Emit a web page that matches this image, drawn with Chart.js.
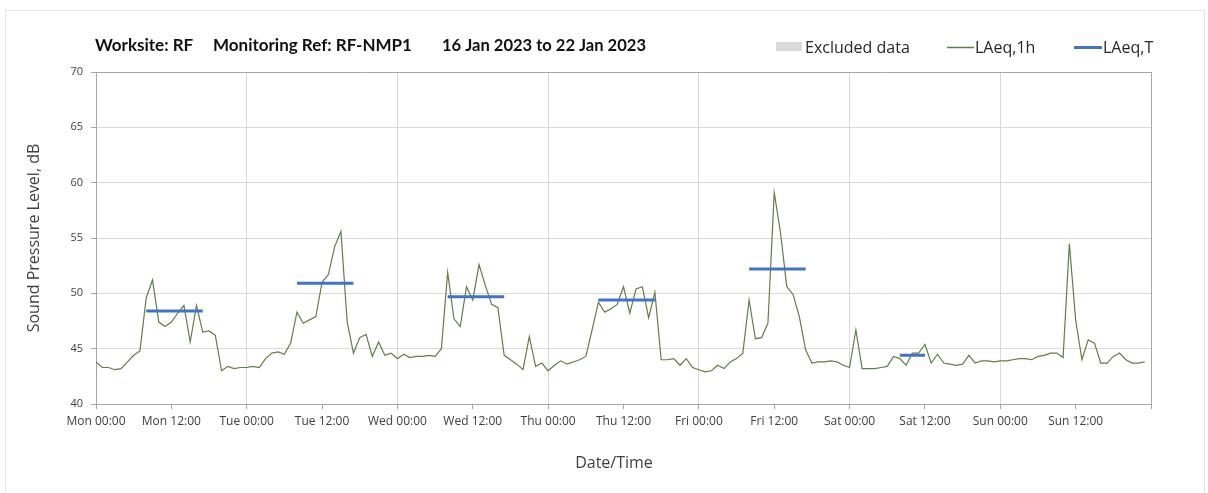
<!DOCTYPE html>
<html>
<head>
<meta charset="utf-8">
<script src="https://cdn.jsdelivr.net/npm/chart.js@4.4.1/dist/chart.umd.min.js"></script>
<style>
    html, body { margin:0; padding:0; background:#ffffff; }
    #wrap { width:1208px; height:493px; }
</style>
</head>
<body>
<div id="wrap"><canvas id="noiseChart" width="1208" height="493"></canvas></div>
<script>

// hourly LAeq,1h values, Mon 00:00 onwards (dB)
const hourlyLAeq = [
    43.8, 43.3, 43.3, 43.1, 43.2, 43.8, 44.4, 44.8, 49.6, 51.2, 47.4, 47.0,
    47.4, 48.2, 48.9, 45.6, 48.9, 46.5, 46.6, 46.2, 43.0, 43.4, 43.2, 43.3,
    43.3, 43.4, 43.3, 44.1, 44.6, 44.7, 44.5, 45.5, 48.3, 47.3, 47.6, 47.9,
    51.0, 51.7, 54.2, 55.6, 47.4, 44.6, 46.0, 46.3, 44.3, 45.6, 44.4, 44.6,
    44.1, 44.5, 44.2, 44.3, 44.3, 44.4, 44.3, 45.0, 51.9, 47.7, 47.0, 50.6,
    49.4, 52.6, 50.7, 49.0, 48.7, 44.4, 44.0, 43.6, 43.1, 46.1, 43.4, 43.7,
    43.0, 43.5, 43.9, 43.6, 43.8, 44.0, 44.3, 46.7, 49.2, 48.3, 48.6, 49.0,
    50.6, 48.2, 50.4, 50.6, 47.8, 50.1, 44.0, 44.0, 44.1, 43.5, 44.1, 43.3,
    43.1, 42.9, 43.0, 43.5, 43.2, 43.8, 44.1, 44.6, 49.4, 45.9, 46.0, 47.3,
    59.1, 55.5, 50.6, 49.9, 47.9, 44.9, 43.7, 43.8, 43.8, 43.9, 43.8, 43.5,
    43.3, 46.7, 43.2, 43.2, 43.2, 43.3, 43.4, 44.3, 44.1, 43.5, 44.6, 44.6,
    45.4, 43.7, 44.5, 43.7, 43.6, 43.5, 43.6, 44.4, 43.7, 43.9, 43.9, 43.8,
    43.9, 43.9, 44.0, 44.1, 44.1, 44.0, 44.3, 44.4, 44.6, 44.6, 44.2, 54.5,
    47.6, 44.0, 45.8, 45.5, 43.7, 43.7, 44.3, 44.6, 44.0, 43.7, 43.7, 43.8
];

// LAeq,T periods (hours from Mon 00:00)
const periodStart = [8, 32, 56, 80, 104, 128];
const periodEnd = [17, 41, 65, 89, 113, 132];
const periodLAeqT = [48.4, 50.9, 49.7, 49.4, 52.2, 44.4];

const tickLabels = [
    "Mon 00:00", "Mon 12:00", "Tue 00:00", "Tue 12:00", "Wed 00:00", "Wed 12:00",
    "Thu 00:00", "Thu 12:00", "Fri 00:00", "Fri 12:00", "Sat 00:00", "Sat 12:00",
    "Sun 00:00", "Sun 12:00", ""
];

const titleParts = ["Worksite: RF", "Monitoring Ref: RF-NMP1", "16 Jan 2023 to 22 Jan 2023"];

const hourlyPoints = hourlyLAeq.map((v, i) => ({x: i, y: v}));

let periodPoints = [];
periodStart.forEach((s, i) => {
    periodPoints.push({x: s, y: periodLAeqT[i]});
    periodPoints.push({x: periodEnd[i], y: periodLAeqT[i]});
    periodPoints.push({x: periodEnd[i] + 0.5, y: null});
});

const axisGrey = '#a6a6a6';
const gridGrey = '#d9d9d9';
const textGrey = '#404040';

const decorPlugin = {

    id: 'decor',

    beforeDraw(chart) {
        const ctx = chart.ctx;
        ctx.save();
        ctx.fillStyle = '#ffffff';
        ctx.fillRect(0, 0, chart.width, chart.height);
        ctx.strokeStyle = '#e4e4e4';
        ctx.lineWidth = 1;
        ctx.strokeRect(5.5, 10.5, 1199, 495);
        ctx.restore();
    },

    afterDraw(chart) {
        const ctx = chart.ctx;
        ctx.save();

        // title
        ctx.fillStyle = '#111111';
        ctx.font = 'bold 17px Lato';
        ctx.textBaseline = 'alphabetic';
        ctx.textAlign = 'left';
        const titleX = [95, 213, 442];
        const titleW = [102, 205, 204];
        titleParts.forEach((t, i) => ctx.fillText(t, titleX[i], 51, titleW[i]));

        // legend
        ctx.font = '16px "Open Sans"';
        const ds = chart.data.datasets;
        ctx.fillStyle = ds[2].backgroundColor;
        ctx.fillRect(776, 42, 26, 9);
        ctx.fillStyle = '#262626';
        ctx.fillText(ds[2].label, 805, 53, 108);

        ctx.strokeStyle = ds[0].borderColor;
        ctx.lineWidth = 1.5;
        ctx.beginPath();
        ctx.moveTo(947, 47.5);
        ctx.lineTo(974, 47.5);
        ctx.stroke();
        ctx.fillText(ds[0].label, 975, 53, 65);

        ctx.strokeStyle = ds[1].borderColor;
        ctx.lineWidth = 3;
        ctx.beginPath();
        ctx.moveTo(1074, 47.5);
        ctx.lineTo(1102, 47.5);
        ctx.stroke();
        ctx.fillText(ds[1].label, 1103, 53, 55);

        // axis titles
        ctx.fillStyle = textGrey;
        ctx.font = '16px "Open Sans"';
        ctx.textAlign = 'center';
        ctx.textBaseline = 'middle';
        ctx.fillText('Date/Time', 614, 463);

        ctx.translate(34, 238);
        ctx.rotate(-Math.PI / 2);
        ctx.fillText('Sound Pressure Level, dB', 0, 0);

        ctx.restore();
    }
};

const ctx = document.getElementById('noiseChart');

const noiseChart = new Chart(ctx, {

    type: 'line',

    data: {
        datasets: [
            {
                label: 'LAeq,1h',
                data: hourlyPoints,
                borderColor: '#5f7f45',
                borderWidth: 1.2,
                pointRadius: 0,
                tension: 0,
                order: 2
            },
            {
                label: 'LAeq,T',
                data: periodPoints,
                borderColor: '#4472c4',
                borderWidth: 3,
                pointRadius: 0,
                tension: 0,
                spanGaps: false,
                borderCapStyle: 'butt',
                order: 1
            },
            {
                label: 'Excluded data',
                data: [],
                backgroundColor: '#d9d9d9',
                borderColor: '#d9d9d9',
                pointRadius: 0
            }
        ]
    },

    plugins: [decorPlugin],

    options: {

        responsive: false,
        devicePixelRatio: 1,
        animation: false,

        layout: {
            padding: {left: 26, top: 72, right: 57, bottom: 29}
        },

        plugins: {
            legend: { display: false },
            tooltip: { enabled: false }
        },

        scales: {

            x: {
                type: 'linear',
                min: 0,
                max: 168,
                afterFit(scale) { scale.height = 60; },
                ticks: {
                    stepSize: 12,
                    padding: 5,
                    color: textGrey,
                    font: {family: '"Open Sans"', size: 12},
                    maxRotation: 0,
                    autoSkip: false,
                    callback: (v) => tickLabels[v / 12]
                },
                grid: {
                    color: (c) => {
                        const v = c.tick ? c.tick.value : 0;
                        if (v === 168) return axisGrey;
                        return (v % 24 === 0 && v !== 0) ? gridGrey : 'rgba(0,0,0,0)';
                    },
                    tickColor: axisGrey,
                    tickLength: 5
                },
                border: { color: axisGrey }
            },

            y: {
                min: 40,
                max: 70,
                afterFit(scale) { scale.width = 70; },
                ticks: {
                    stepSize: 5,
                    padding: 8,
                    color: textGrey,
                    font: {family: '"Open Sans"', size: 11}
                },
                grid: {
                    color: (c) => {
                        const v = c.tick ? c.tick.value : 0;
                        if (v === 70) return axisGrey;
                        return v === 40 ? 'rgba(0,0,0,0)' : gridGrey;
                    },
                    tickColor: axisGrey,
                    tickLength: 5
                },
                border: { color: axisGrey }
            }
        }
    }
});
</script>
</body>
</html>
